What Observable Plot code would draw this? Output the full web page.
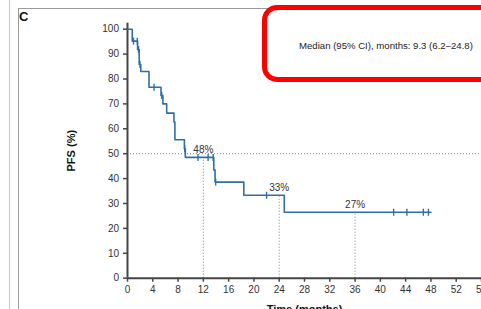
<!DOCTYPE html>
<html>
<head>
<meta charset="utf-8">
<script src="https://cdn.jsdelivr.net/npm/d3@7"></script>
<script src="https://cdn.jsdelivr.net/npm/@observablehq/plot@0.6"></script>
<style>
  html, body { margin: 0; padding: 0; background: #fff; }
  #wrap { position: relative; width: 481px; height: 309px; overflow: hidden; background: #fff;
          font-family: "Liberation Sans", Arial, sans-serif; }
  #wrap svg { position: absolute; left: 0; top: 0; }
  #lineA { position: absolute; left: 9px; top: 0; width: 1px; height: 309px; background: #c8c8c8; }
  #lineB { position: absolute; left: 18px; top: 8px; width: 1px; height: 301px; background: #9a9a9a; }
  #lineC { position: absolute; left: 18px; top: 8px; width: 250px; height: 1px; background: #9a9a9a; }
  #panel { position: absolute; left: 19px; top: 9.5px; font-weight: bold; font-size: 13px; color: #111; line-height: 13px; }
  #box { position: absolute; left: 262px; top: 5px; width: 240px; height: 77px; box-sizing: border-box;
         border: 5px solid #ff0000; border-radius: 15px; background: #fff; }
  #median { position: absolute; left: 299px; top: 40px; font-size: 9.6px; color: #222; white-space: nowrap; }
  svg [aria-label="x-axis label"] text, svg [aria-label="y-axis label"] text,
  svg [aria-label="x-axis label"], svg [aria-label="y-axis label"] { font-weight: bold; font-size: 11px; fill: #111; }
</style>
</head>
<body>
<div id="wrap">
  <div id="lineA"></div>
  <div id="lineB"></div>
  <div id="lineC"></div>
  <div id="panel">C</div>
  <div id="chart"></div>
  <div id="box"></div>
  <div id="median">Median (95% CI), months: 9.3 (6.2–24.8)</div>
</div>
<script>
// Kaplan–Meier step points (time in months, PFS %)
const stepTimes = [0, 0.75, 1.6, 1.85, 2.1, 3.4, 5.3, 5.6, 6.2, 7.35, 7.5, 9.0, 9.15, 13.65, 13.85, 18.4, 24.8, 48.0];
const stepPFS   = [100, 95.2, 91.8, 85.8, 83.0, 76.7, 73.4, 70.0, 66.3, 62.7, 55.6, 52.0, 48.5, 43.5, 38.6, 33.3, 26.5, 26.5];

// Censored observations
const censorTimes = [0.95, 1.55, 1.75, 1.98, 4.2, 5.4, 9.05, 11.15, 12.75, 13.55, 13.95, 22.0, 42.1, 44.2, 46.8, 47.6];
const censorPFS   = [95.2, 95.2, 91.8, 85.8, 76.7, 73.4, 52.0, 48.5, 48.5, 48.5, 38.6, 33.3, 26.5, 26.5, 26.5, 26.5];

// Landmark annotations
const landmarkTimes  = [12, 24, 36];
const landmarkPFS    = [48.5, 33.3, 26.5];
const landmarkLabels = ["48%", "33%", "27%"];

const medianLine = [50];
const xTicks = [0, 4, 8, 12, 16, 20, 24, 28, 32, 36, 40, 44, 48, 52, 56];
const yTicks = [0, 10, 20, 30, 40, 50, 60, 70, 80, 90, 100];

const blue = "#2f6fa7";
const axisColor = "#444";

const steps = stepTimes.map((t, i) => ({t, s: stepPFS[i]}));
const censors = censorTimes.map((t, i) => ({t, s: censorPFS[i]}));
const landmarks = landmarkTimes.map((t, i) => ({t, s: landmarkPFS[i], label: landmarkLabels[i]}));

const vTick = { draw(ctx, size) { ctx.moveTo(0, -3.5); ctx.lineTo(0, 3.5); } };

const chart = Plot.plot({
  width: 481,
  height: 309,
  marginLeft: 127,
  marginRight: 0,
  marginTop: 22.7,
  marginBottom: 31.3,
  style: { fontFamily: "Liberation Sans, Arial, sans-serif", fontSize: "10px", color: "#333", background: "transparent", overflow: "visible" },
  x: { domain: [0, 56] },
  y: { domain: [0, 102.4] },
  marks: [
    Plot.ruleY(medianLine, { stroke: "#808080", strokeWidth: 1, strokeDasharray: "1,2" }),
    Plot.ruleX(landmarks, { x: "t", y1: 0, y2: "s", stroke: "#808080", strokeWidth: 1, strokeDasharray: "1,2" }),
    Plot.axisX({ ticks: xTicks, tickSize: 4, tickPadding: 4, stroke: axisColor, strokeWidth: 1.5, fontSize: 10, fill: "#333",
                 label: "Time (months)", labelAnchor: "center", labelArrow: "none", labelOffset: 35 }),
    Plot.axisY({ ticks: yTicks, tickSize: 4, tickPadding: 4.5, stroke: axisColor, strokeWidth: 1.5, fontSize: 10, fill: "#333",
                 label: "PFS (%)", labelAnchor: "center", labelArrow: "none", labelOffset: 60 }),
    Plot.ruleX([0], { y1: 0, y2: 102.4, stroke: axisColor, strokeWidth: 2 }),
    Plot.ruleY([0], { stroke: axisColor, strokeWidth: 2 }),
    Plot.line(steps, { x: "t", y: "s", curve: "step-after", stroke: blue, strokeWidth: 1.6 }),
    Plot.dot(censors, { x: "t", y: "s", symbol: vTick, fill: "none", stroke: blue, strokeWidth: 1.4 }),
    Plot.text(landmarks, { x: "t", y: "s", text: "label", textAnchor: "middle", lineAnchor: "bottom", dy: -4, fontSize: 10, fill: "#333" })
  ]
});
document.getElementById("chart").appendChild(chart);
</script>
</body>
</html>
